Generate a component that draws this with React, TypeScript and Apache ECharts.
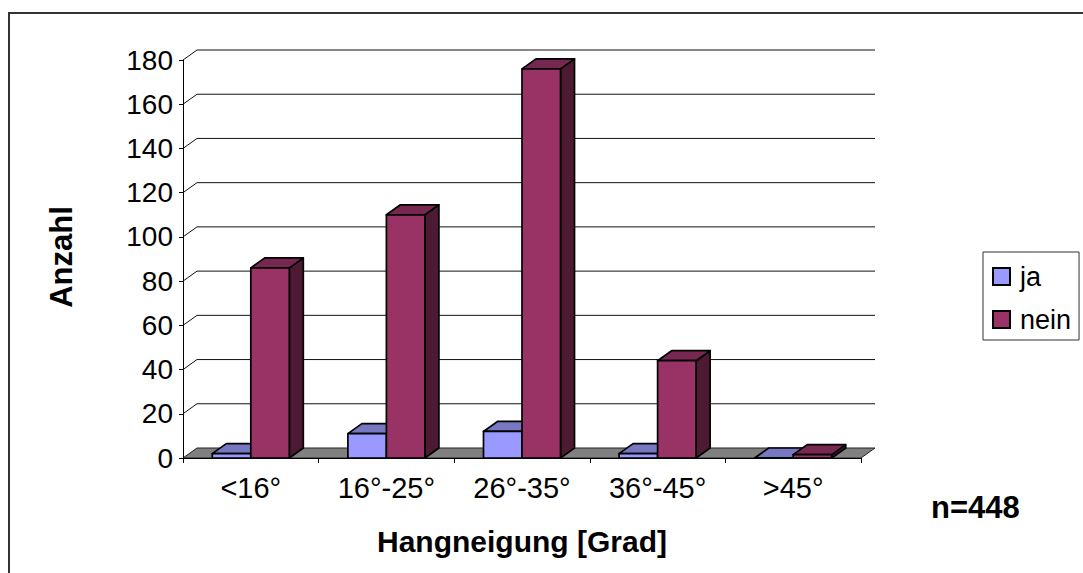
import React, { useEffect, useRef } from "react";
import * as echarts from "echarts";

const categories = ["<16°", "16°-25°", "26°-35°", "36°-45°", ">45°"];
const jaValues = [2, 11, 12, 2, 0];
const neinValues = [86, 110, 176, 44, 1.5];
const gridTicks = [0, 20, 40, 60, 80, 100, 120, 140, 160, 180];

const FONT = "'Liberation Sans', Arial, sans-serif";
const DX = 14;
const DY = -10;
const BAR_RATIO = 0.284;

function barSeries(name: string, values: number[], side: number, front: string, top: string, dark: string) {
  return {
    type: "custom",
    name,
    z: 3,
    silent: true,
    clip: false,
    itemStyle: { color: front, borderColor: "#000", borderWidth: 2 },
    data: values.map((v, i) => [i, v]),
    encode: { x: 0, y: 1 },
    renderItem: (_p: any, api: any) => {
      const c = api.value(0);
      const v = api.value(1);
      const [cx, y1] = api.coord([c, v]);
      const y0 = api.coord([c, 0])[1];
      const w = api.size([1, 0])[0] * BAR_RATIO;
      const x0 = side < 0 ? cx - w : cx;
      const x1 = x0 + w;
      const line = { stroke: "#000", lineWidth: 1.7, lineJoin: "round" };
      return {
        type: "group",
        children: [
          { type: "polygon", shape: { points: [[x1, y0], [x1 + DX, y0 + DY], [x1 + DX, y1 + DY], [x1, y1]] }, style: { fill: dark, ...line } },
          { type: "polygon", shape: { points: [[x0, y1], [x0 + DX, y1 + DY], [x1 + DX, y1 + DY], [x1, y1]] }, style: { fill: top, ...line } },
          { type: "rect", shape: { x: x0, y: y1, width: w, height: y0 - y1 }, style: { fill: front, ...line } },
        ],
      };
    },
  };
}

export default function App() {
  const ref = useRef<HTMLDivElement>(null);
  useEffect(() => {
    const chart = echarts.init(ref.current!, undefined, { renderer: "svg" });
    chart.setOption({
      animation: false,
      backgroundColor: "#fff",
      textStyle: { fontFamily: FONT },
      grid: { left: 183, right: 222, top: 60, bottom: 115 },
      legend: {
        orient: "vertical",
        left: 983,
        top: 252,
        padding: [11, 8, 7, 9],
        itemGap: 16,
        itemWidth: 17,
        itemHeight: 17,
        icon: "rect",
        selectedMode: false,
        borderColor: "#333",
        borderWidth: 1,
        data: ["ja", "nein"],
        itemStyle: { borderColor: "#000", borderWidth: 2 },
        textStyle: { fontFamily: FONT, fontSize: 27, color: "#000", padding: [0, 0, 0, 5] },
      },
      xAxis: {
        type: "category",
        data: categories,
        z: 5,
        boundaryGap: true,
        axisLine: { lineStyle: { color: "#000", width: 1 } },
        axisTick: { show: true, length: 5, alignWithLabel: false, lineStyle: { color: "#000" } },
        axisLabel: { color: "#000", fontSize: 29, fontFamily: FONT, margin: 15 },
        name: "Hangneigung [Grad]",
        nameLocation: "middle",
        nameGap: 68,
        nameTextStyle: { color: "#000", fontSize: 30, fontWeight: "bold", fontFamily: FONT },
      },
      yAxis: {
        type: "value",
        min: 0,
        max: 180,
        interval: 20,
        z: 5,
        axisLine: { show: true, lineStyle: { color: "#000", width: 1 } },
        axisTick: { show: true, length: 4, lineStyle: { color: "#000" } },
        splitLine: { show: false },
        axisLabel: { color: "#000", fontSize: 28, fontFamily: FONT, margin: 10 },
        name: "Anzahl",
        nameLocation: "middle",
        nameGap: 106,
        nameTextStyle: { color: "#000", fontSize: 31, fontWeight: "bold", fontFamily: FONT, padding: [0, 0, 0, 4] },
      },
      graphic: [
        { type: "polyline", silent: true, shape: { points: [[9, 600], [9, 13], [1100, 13]] }, style: { stroke: "#333", lineWidth: 2, fill: "none" } },
        { type: "text", silent: true, x: 931, y: 492, style: { text: "n=448", fill: "#000", font: `bold 31px ${FONT}` } },
      ],
      series: [
        {
          type: "custom",
          name: "walls",
          z: 1,
          silent: true,
          clip: false,
          data: gridTicks.map((t) => [0, t]),
          encode: { x: 0, y: 1 },
          renderItem: (p: any, api: any) => {
            const cs = p.coordSys;
            const y = api.coord([0, api.value(1)])[1];
            const xL = cs.x;
            const xR = cs.x + cs.width;
            const children: any[] = [];
            if (api.value(1) === 0) {
              children.push({
                type: "polygon",
                shape: { points: [[xL, y], [xL + DX, y + DY], [xR + DX, y + DY], [xR, y]] },
                style: { fill: "#808080", stroke: "#222", lineWidth: 1 },
              });
            } else {
              children.push({
                type: "polyline",
                shape: { points: [[xL, y], [xL + DX, y + DY], [xR + DX, y + DY]] },
                style: { stroke: "#111", lineWidth: 1, fill: "none" },
              });
            }
            return { type: "group", children };
          },
        },
        barSeries("ja", jaValues, -1, "#9999FF", "#7777C2", "#4D4D80"),
        barSeries("nein", neinValues, 1, "#993366", "#772850", "#4D1A33"),
      ],
    });
    return () => chart.dispose();
  }, []);
  return <div ref={ref} style={{ position: "absolute", left: 0, top: 0, width: 1083, height: 573 }} />;
}
